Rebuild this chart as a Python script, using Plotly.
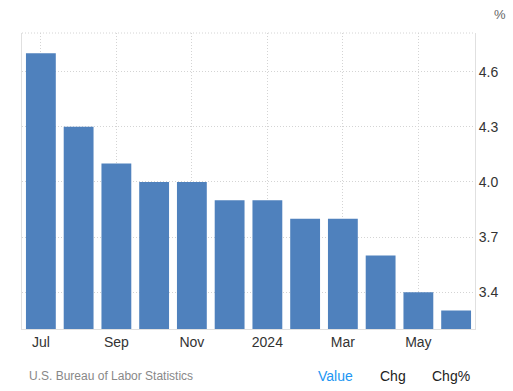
import plotly.graph_objects as go

months = ["2023-07", "2023-08", "2023-09", "2023-10", "2023-11", "2023-12",
          "2024-01", "2024-02", "2024-03", "2024-04", "2024-05", "2024-06"]
values = [4.7, 4.3, 4.1, 4.0, 4.0, 3.9, 3.9, 3.8, 3.8, 3.6, 3.4, 3.3]
tick_months = ["2023-07", "2023-09", "2023-11", "2024-01", "2024-03", "2024-05"]
tick_labels = ["Jul", "Sep", "Nov", "2024", "Mar", "May"]
y_ticks = [3.4, 3.7, 4.0, 4.3, 4.6]

FONT = "Liberation Sans, Arial, Helvetica, sans-serif"
DOT = "1px,2px"

fig = go.Figure(go.Bar(x=months, y=values, marker=dict(color="#4f81bd", line=dict(width=0))))

fig.update_layout(
    width=513, height=391,
    margin=dict(l=22, r=38, t=33, b=62),
    paper_bgcolor="white", plot_bgcolor="white",
    bargap=0.21,
    showlegend=False,
    font=dict(family=FONT, color="#333333", size=14),
)
fig.update_xaxes(
    type="category",
    tickmode="array", tickvals=tick_months, ticktext=tick_labels,
    showgrid=True, gridcolor="#d4d4d4", griddash=DOT, gridwidth=1,
    ticks="", tickfont=dict(size=14, color="#333333"),
    showline=True, linecolor="#e0e0e0", linewidth=1,
    zeroline=False,
)
fig.update_yaxes(
    side="right", range=[3.2, 4.81],
    tickmode="array", tickvals=y_ticks, ticktext=[f"{v:.1f}" for v in y_ticks],
    showgrid=True, gridcolor="#d4d4d4", griddash=DOT, gridwidth=1,
    ticks="", tickfont=dict(size=14, color="#333333"),
    showline=True, linecolor="#e0e0e0", linewidth=1, mirror=True,
    zeroline=False,
)
# top dotted border
fig.add_shape(type="line", xref="paper", yref="paper", x0=0, x1=1, y0=1, y1=1,
              line=dict(color="#d4d4d4", width=1, dash=DOT))

fig.add_annotation(text="%", xref="paper", yref="paper", x=1.055, y=1.03,
                   xanchor="center", yanchor="bottom", showarrow=False,
                   font=dict(size=13, color="#666666"))
fig.add_annotation(text="U.S. Bureau of Labor Statistics", xref="paper", yref="paper",
                   x=0.01, y=-0.16, xanchor="left", yanchor="middle", showarrow=False,
                   font=dict(size=12, color="#888888"))
fig.add_annotation(text="Value", xref="paper", yref="paper", x=0.693, y=-0.16,
                   xanchor="center", yanchor="middle", showarrow=False,
                   font=dict(size=14, color="#2196f3"))
fig.add_annotation(text="Chg", xref="paper", yref="paper", x=0.819, y=-0.16,
                   xanchor="center", yanchor="middle", showarrow=False,
                   font=dict(size=14, color="#222222"))
fig.add_annotation(text="Chg%", xref="paper", yref="paper", x=0.947, y=-0.16,
                   xanchor="center", yanchor="middle", showarrow=False,
                   font=dict(size=14, color="#222222"))

fig.write_html("out.html", config={"displayModeBar": False},
               post_script="document.body.style.margin='0';")
